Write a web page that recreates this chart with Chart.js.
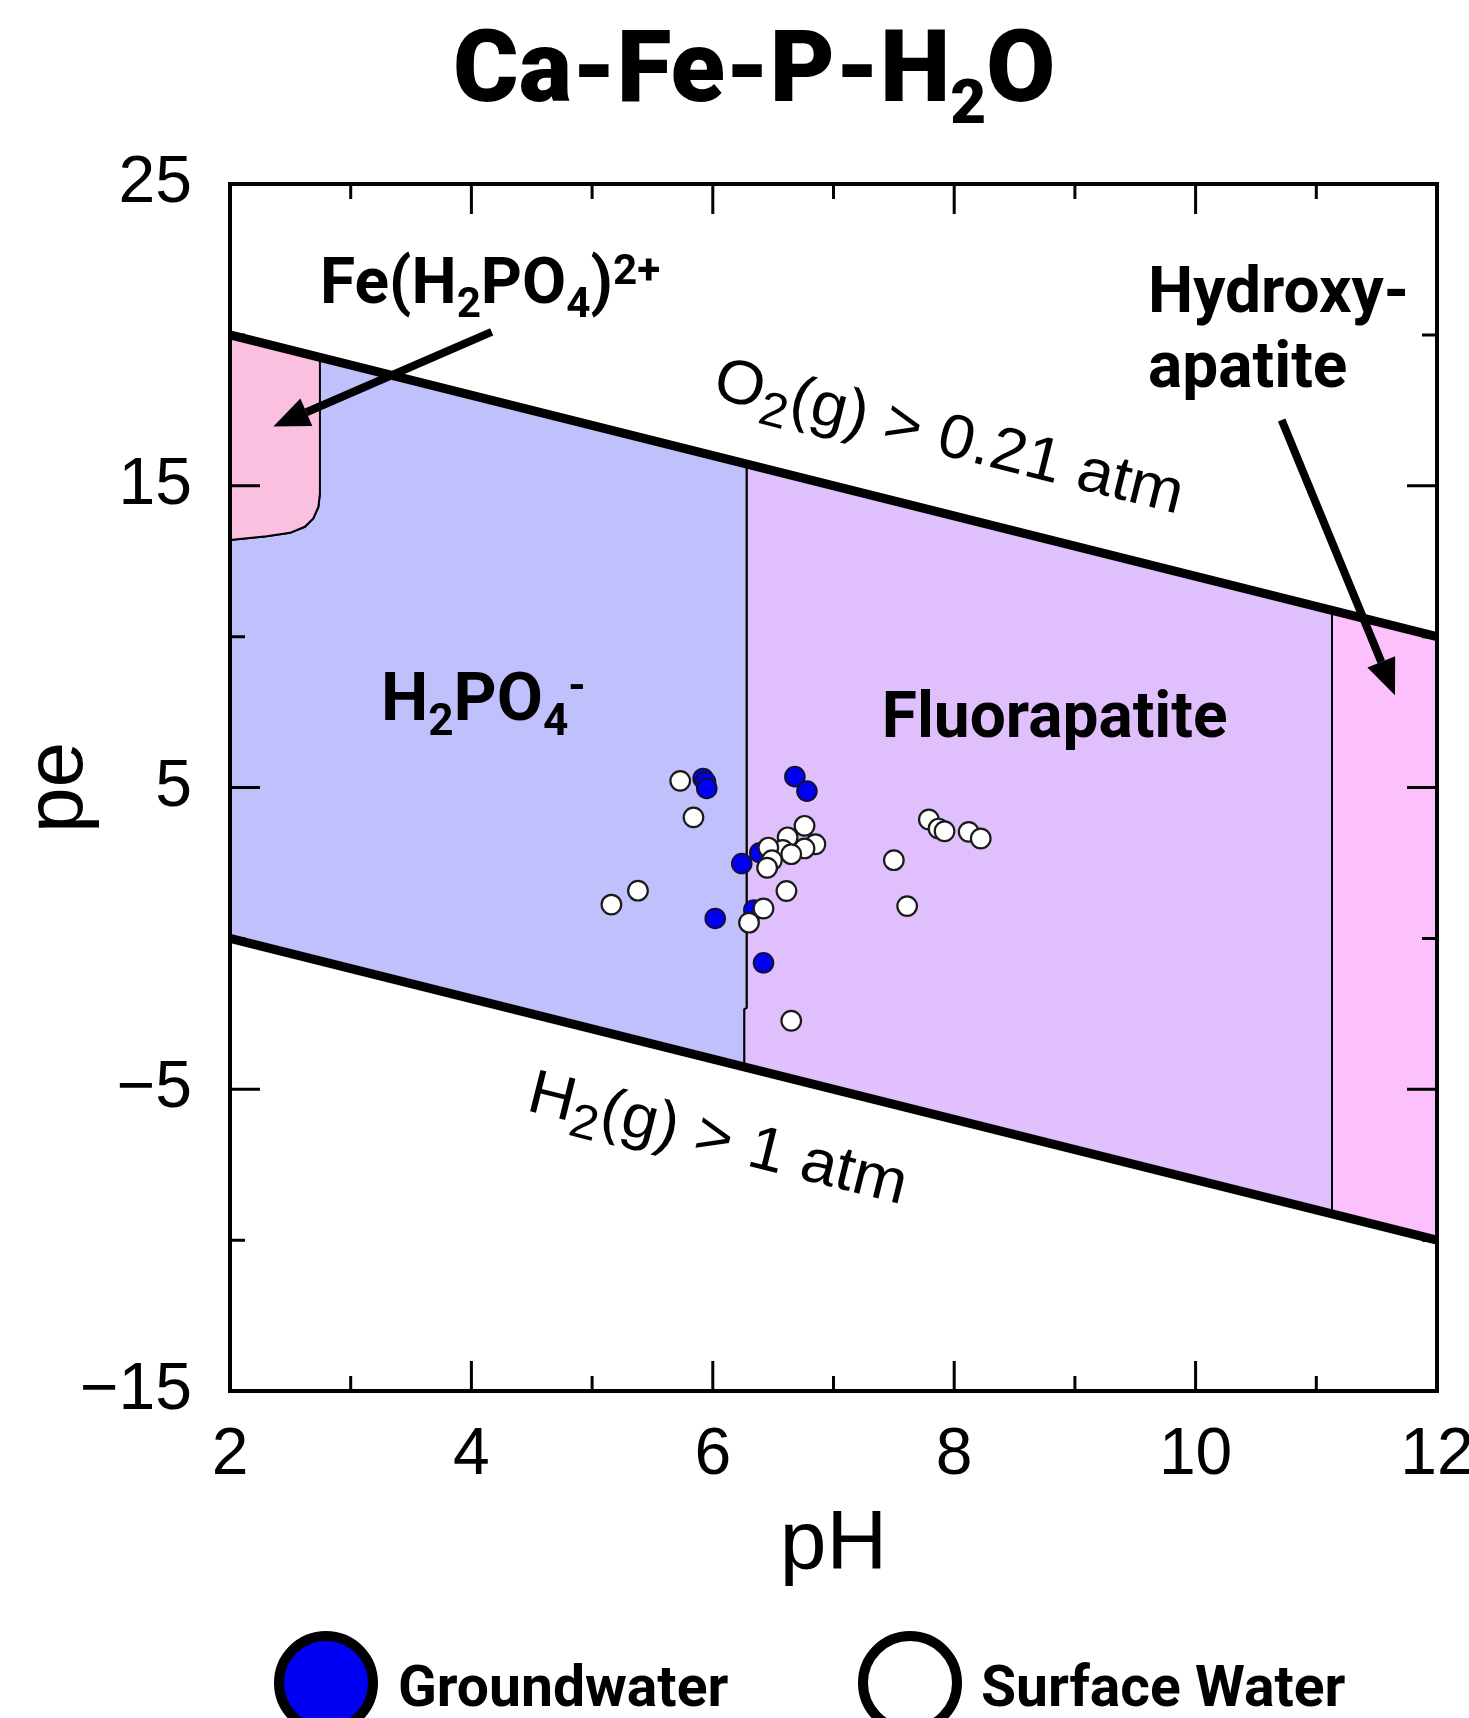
<!DOCTYPE html>
<html>
<head>
<meta charset="utf-8">
<script src="https://cdn.jsdelivr.net/npm/chart.js@4.4.1/dist/chart.umd.min.js"></script>
<style>
  html, body { margin: 0; padding: 0; background: #fff; overflow: hidden; }
  #wrap { width: 1469px; height: 1718px; }
</style>
</head>
<body>
<div id="wrap"><canvas id="chart-pe-ph" width="1469" height="1718"></canvas></div>
<script>
// Ca-Fe-P-H2O pe–pH diagram with groundwater / surface water samples.

// samples (pH, pe)
const phGround = [5.92, 5.94, 5.95, 6.68, 6.78, 6.24, 6.39, 6.02, 6.34, 6.42];
const peGround = [5.30, 5.19, 4.97, 5.36, 4.88, 2.48, 2.84, 0.66, 0.94, -0.81];
const phSurface = [5.73, 5.84, 5.38, 5.16, 6.30, 6.42, 6.76, 6.62, 6.85, 6.76, 6.58, 6.65,
                   6.46, 6.49, 6.45, 6.61, 6.65, 7.50, 7.61, 7.79, 7.87, 7.92, 8.12, 8.22];
const peSurface = [5.22, 4.01, 1.58, 1.12, 0.52, 0.99, 3.73, 3.35, 3.12, 2.98, 2.93, 2.79,
                   3.01, 2.59, 2.34, 1.57, -2.73, 2.59, 1.07, 3.94, 3.64, 3.55, 3.53, 3.31];

// water stability limits
const o2PH = [2, 12], o2PE = [20, 10];
const h2PH = [2, 12], h2PE = [0, -10];

// stability fields (polygon vertices, pH / pe)
const fePH = [2, 2.745, 2.745, 2.732, 2.69, 2.62, 2.497, 2.304, 2.0];
const fePE = [20, 19.255, 14.75, 14.30, 13.92, 13.64, 13.44, 13.33, 13.2];
const h2po4PH = [2.745, 6.28, 6.28, 6.26, 6.26, 2, 2, 2.304, 2.497, 2.62, 2.69, 2.732, 2.745];
const h2po4PE = [19.255, 15.72, -2.30, -2.35, -4.26, 0, 13.2, 13.33, 13.44, 13.64, 13.92, 14.30, 14.75];
const fluorPH = [6.28, 11.13, 11.13, 6.26, 6.26, 6.28, 6.28];
const fluorPE = [15.72, 10.87, -9.13, -4.26, -2.35, -2.30, 15.72];
const hydroxPH = [11.13, 12, 12, 11.13, 11.13];
const hydroxPE = [10.87, 10, -10, -9.13, 10.87];

// tick labels
const xTickLabels = [2, 4, 6, 8, 10, 12];
const yTickLabels = [25, 15, 5, -5, -15];

// texts
const titleParts = [['Ca-Fe-P-H', 'n'], ['2', 'b'], ['O', 'n']];
const feLabel = [['Fe(H', 'n'], ['2', 'b'], ['PO', 'n'], ['4', 'b'], [')', 'n'], ['2+', 'p']];
const h2po4Label = [['H', 'n'], ['2', 'b'], ['PO', 'n'], ['4', 'b'], ['-', 'p']];
const fluorLabel = 'Fluorapatite';
const hydroxyLines = ['Hydroxy-', 'apatite'];
const o2Label = [['O', 'n'], ['2', 'b'], ['(g) > 0.21 atm', 'n']];
const h2Label = [['H', 'n'], ['2', 'b'], ['(g) > 1 atm', 'n']];

const zip = (xs, ys) => xs.map((x, i) => ({ x, y: ys[i] }));
const minus = (v) => String(v).replace('-', '\u2212');

// draws text with sub/superscripts, left/baseline at (x, y)
function rich(ctx, x, y, parts, size, family, weight, sub = 0.62) {
    let cx = x;
    for (const [t, k] of parts) {
        const s = k === 'n' ? size : size * sub;
        const dy = k === 'b' ? size * 0.22 : k === 'p' ? -size * 0.3 : 0;
        ctx.font = `${weight} ${s}px ${family}`;
        ctx.fillText(t, cx, y + dy);
        cx += ctx.measureText(t).width;
    }
}

function arrow(ctx, x0, y0, x1, y1) {
    const a = Math.atan2(y1 - y0, x1 - x0);
    const head = 36, hw = 15;
    const bx = x1 - head * Math.cos(a), by = y1 - head * Math.sin(a);
    ctx.lineWidth = 8;
    ctx.beginPath(); ctx.moveTo(x0, y0); ctx.lineTo(bx, by); ctx.stroke();
    ctx.beginPath();
    ctx.moveTo(x1, y1);
    ctx.lineTo(bx + hw * Math.sin(a), by - hw * Math.cos(a));
    ctx.lineTo(bx - hw * Math.sin(a), by + hw * Math.cos(a));
    ctx.closePath(); ctx.fill();
}

const BOLD = 'Roboto, "Liberation Sans", sans-serif';
const PLAIN = '"Liberation Sans", Arial, sans-serif';

const decor = {
    id: 'decor',
    afterDatasetsDraw(chart) {
        const { ctx, chartArea: a, scales: { x, y } } = chart;
        const P = (ph, pe) => [x.getPixelForValue(ph), y.getPixelForValue(pe)];
        ctx.save();
        ctx.strokeStyle = '#000';
        ctx.fillStyle = '#000';

        // inward ticks on all four sides
        ctx.lineWidth = 3;
        ctx.beginPath();
        for (const t of x.ticks) {
            const px = x.getPixelForValue(t.value);
            const len = xTickLabels.includes(t.value) ? 30 : 15;
            ctx.moveTo(px, a.bottom); ctx.lineTo(px, a.bottom - len);
            ctx.moveTo(px, a.top); ctx.lineTo(px, a.top + len);
        }
        for (const t of y.ticks) {
            const py = y.getPixelForValue(t.value);
            const len = yTickLabels.includes(t.value) ? 30 : 15;
            ctx.moveTo(a.left, py); ctx.lineTo(a.left + len, py);
            ctx.moveTo(a.right, py); ctx.lineTo(a.right - len, py);
        }
        ctx.stroke();
        ctx.lineWidth = 4;
        ctx.strokeRect(a.left, a.top, a.right - a.left, a.bottom - a.top);

        // field labels
        ctx.textBaseline = 'alphabetic';
        ctx.textAlign = 'left';
        let p = P(2.746, 21.06);
        rich(ctx, p[0], p[1], feLabel, 64, BOLD, 'bold', 0.66);
        p = P(3.25, 7.23);
        rich(ctx, p[0], p[1], h2po4Label, 67, BOLD, 'bold', 0.66);
        p = P(7.40, 6.67);
        rich(ctx, p[0], p[1], [[fluorLabel, 'n']], 64, BOLD, 'bold');
        p = P(9.606, 20.76);
        rich(ctx, p[0], p[1], [[hydroxyLines[0], 'n']], 64, BOLD, 'bold');
        p = P(9.606, 18.27);
        rich(ctx, p[0], p[1], [[hydroxyLines[1], 'n']], 64, BOLD, 'bold');

        // arrows
        let s = P(4.168, 20.10), e = P(2.359, 16.96);
        arrow(ctx, s[0], s[1], e[0], e[1]);
        s = P(10.713, 17.18); e = P(11.652, 8.06);
        arrow(ctx, s[0], s[1], e[0], e[1]);

        // labels along the water limits
        const a0 = P(o2PH[0], o2PE[0]), a1 = P(o2PH[1], o2PE[1]);
        const ang = Math.atan2(a1[1] - a0[1], a1[0] - a0[0]);
        for (const [ph, pe, parts] of [[5.985, 17.94, o2Label], [4.444, -5.69, h2Label]]) {
            const q = P(ph, pe);
            ctx.save();
            ctx.translate(q[0], q[1]);
            ctx.rotate(ang);
            ctx.scale(1.04, 1);
            rich(ctx, 0, 0, parts, 62, PLAIN, 'normal', 0.78);
            ctx.restore();
        }
        ctx.restore();
    },
    afterDraw(chart) {
        const { ctx } = chart;
        ctx.save();
        ctx.fillStyle = '#000';
        ctx.textBaseline = 'alphabetic';
        ctx.textAlign = 'left';
        rich(ctx, 453, 101, titleParts, 100, BOLD, '900');

        // legend
        const items = [[chart.data.datasets[1], 326, 398], [chart.data.datasets[0], 910, 981]];
        for (const [ds, cx, tx] of items) {
            ctx.beginPath();
            ctx.arc(cx, 1683, 47, 0, Math.PI * 2);
            ctx.fillStyle = ds.backgroundColor;
            ctx.fill();
            ctx.lineWidth = 10;
            ctx.strokeStyle = '#000';
            ctx.stroke();
            ctx.fillStyle = '#000';
            ctx.font = `bold 57px ${BOLD}`;
            ctx.fillText(ds.label, tx, 1706);
        }
        ctx.restore();
    },
};

const field = (label, xs, ys, color, order) => ({
    label, data: zip(xs, ys), showLine: true, fill: 'shape',
    backgroundColor: color, borderColor: '#000', borderWidth: 2,
    pointRadius: 0, tension: 0, order,
});
const limit = (label, xs, ys, order) => ({
    label, data: zip(xs, ys), showLine: true, fill: false,
    borderColor: '#000', borderWidth: 9, pointRadius: 0, order,
});

new Chart(document.getElementById('chart-pe-ph'), {
    type: 'scatter',
    data: {
        datasets: [
            { label: 'Surface Water', data: zip(phSurface, peSurface), backgroundColor: '#ffffff',
              borderColor: '#1a1a1a', borderWidth: 2.2, pointRadius: 9.8, order: 0 },
            { label: 'Groundwater', data: zip(phGround, peGround), backgroundColor: '#0000f5',
              borderColor: '#10103a', borderWidth: 2, pointRadius: 9.8, order: 1 },
            limit('O2', o2PH, o2PE, 2),
            limit('H2', h2PH, h2PE, 3),
            field('Fe(H2PO4)2+', fePH, fePE, '#fbc0e0', 4),
            field('H2PO4-', h2po4PH, h2po4PE, '#c0c0fc', 5),
            field('Fluorapatite', fluorPH, fluorPE, '#dfc0fc', 6),
            field('Hydroxyapatite', hydroxPH, hydroxPE, '#fcc0fc', 7),
        ],
    },
    options: {
        responsive: false,
        animation: false,
        events: [],
        devicePixelRatio: 1,
        layout: { padding: { top: 184, right: 32, left: 0, bottom: 0 } },
        plugins: { legend: { display: false }, title: { display: false }, tooltip: { enabled: false } },
        scales: {
            x: {
                type: 'linear', min: 2, max: 12,
                afterFit: (sc) => { sc.height = 327; sc.paddingLeft = 0; sc.paddingRight = 0; },
                grid: { display: false, drawTicks: false },
                border: { display: false },
                ticks: {
                    stepSize: 1, autoSkip: false, maxRotation: 0, padding: 25, color: '#000',
                    font: { family: PLAIN, size: 66 },
                    callback: (v) => (xTickLabels.includes(v) ? String(v) : ''),
                },
                title: { display: true, text: 'pH', color: '#000', font: { family: PLAIN, size: 84 },
                         padding: { top: 0, bottom: 122 } },
            },
            y: {
                type: 'linear', min: -15, max: 25,
                afterFit: (sc) => { sc.width = 230; sc.paddingTop = 0; sc.paddingBottom = 0; },
                grid: { display: false, drawTicks: false },
                border: { display: false },
                ticks: {
                    stepSize: 5, autoSkip: false, padding: 38, color: '#000',
                    font: { family: PLAIN, size: 66 },
                    callback: (v) => (yTickLabels.includes(v) ? minus(v) : ''),
                },
                title: { display: true, text: 'pe', color: '#000', font: { family: PLAIN, size: 82 },
                         padding: { top: 10, bottom: 0 } },
            },
        },
    },
    plugins: [decor],
});
</script>
</body>
</html>
